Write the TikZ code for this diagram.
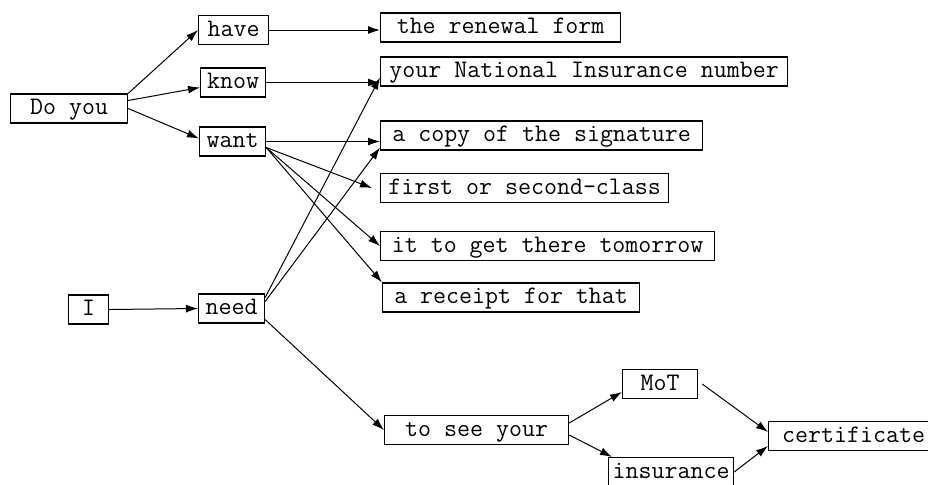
\documentclass[tikz,border=0pt]{standalone}
\usetikzlibrary{arrows.meta}
\begin{document}
\begin{tikzpicture}[x=0.5pt,y=-0.5pt,
    box/.style={draw,line width=0.6pt,anchor=west,font=\fontsize{12.6}{14}\selectfont\ttfamily,
      minimum height=14.5pt,inner xsep=1pt,inner ysep=0pt,text height=8.5pt,text depth=2.5pt},
    link/.style={line width=0.5pt,-{Latex[length=6pt,width=4pt]}}]
  \useasboundingbox (0,0) rectangle (928,484);
  \clip (0,0) rectangle (928,484);
  % subjects and verbs
  \node[box,minimum width=58.5pt] (doyou) at (10,108.5) {Do you};
  \node[box,minimum width=20pt] (i) at (68,309.5) {I};
  \node[box,minimum width=35pt] (have) at (198,30) {have};
  \node[box,minimum width=32.5pt] (know) at (200,82.5) {know};
  \node[box,minimum width=33pt] (want) at (199,141.5) {want};
  \node[box,minimum width=33pt] (need) at (198,308.5) {need};
  % objects
  \node[box,minimum width=120pt] (renewal) at (380,27.5) {the renewal form};
  \node[box,minimum width=203.5pt] (nino) at (380,71.5) {your National Insurance number};
  \node[box,minimum width=161pt] (signature) at (380,135.5) {a copy of the signature};
  \node[box,minimum width=144pt] (postclass) at (380,188) {first or second-class};
  \node[box,minimum width=167pt] (tomorrow) at (380,246) {it to get there tomorrow};
  \node[box,minimum width=128.5pt] (receipt) at (382,297.5) {a receipt for that};
  \node[box,minimum width=92pt] (tosee) at (384,430) {to see your};
  \node[box,minimum width=37.5pt] (mot) at (622,384) {MoT};
  \node[box,minimum width=62.5pt] (insurance) at (608,472) {insurance};
  \node[box,minimum width=85pt] (certificate) at (768,436) {certificate};
  % links
  \draw[link] (doyou.north east) -- (have.west);
  \draw[link] ([yshift=4pt]doyou.east) -- ([yshift=-2.5pt]know.west);
  \draw[link] (doyou.east) -- ([yshift=1.5pt]want.west);
  \draw[link] (have.east) -- (have.east -| renewal.west);
  \draw[link] (know.east) -- (know.east -| nino.west);
  \draw[link] (want.east) -- (want.east -| signature.west);
  \draw[link] ([yshift=-3pt]want.east) -- ([xshift=-4pt]postclass.west);
  \draw[link] ([yshift=-3pt]want.east) -- (tomorrow.west);
  \draw[link] ([yshift=-3pt]want.east) -- (receipt.north west);
  \draw[link] (i.east) -- (need.west);
  \draw[link] ([yshift=-2pt]need.north east) -- ([yshift=-3pt]nino.west);
  \draw[link] ([yshift=-4pt]need.north east) -- ([yshift=1.5pt]signature.south west);
  \draw[link] ([yshift=2pt]need.south east) -- (tosee.west);
  \draw[link] ([yshift=3.5pt]tosee.east) -- ([yshift=-4pt]mot.west);
  \draw[link] ([yshift=-2.5pt]tosee.east) -- ([xshift=2pt]insurance.north west);
  \draw[link] ([xshift=2pt]mot.east) -- ([yshift=2pt]certificate.west);
  \draw[link] (insurance.east) -- ([yshift=-5pt]certificate.west);
\end{tikzpicture}
\end{document}
